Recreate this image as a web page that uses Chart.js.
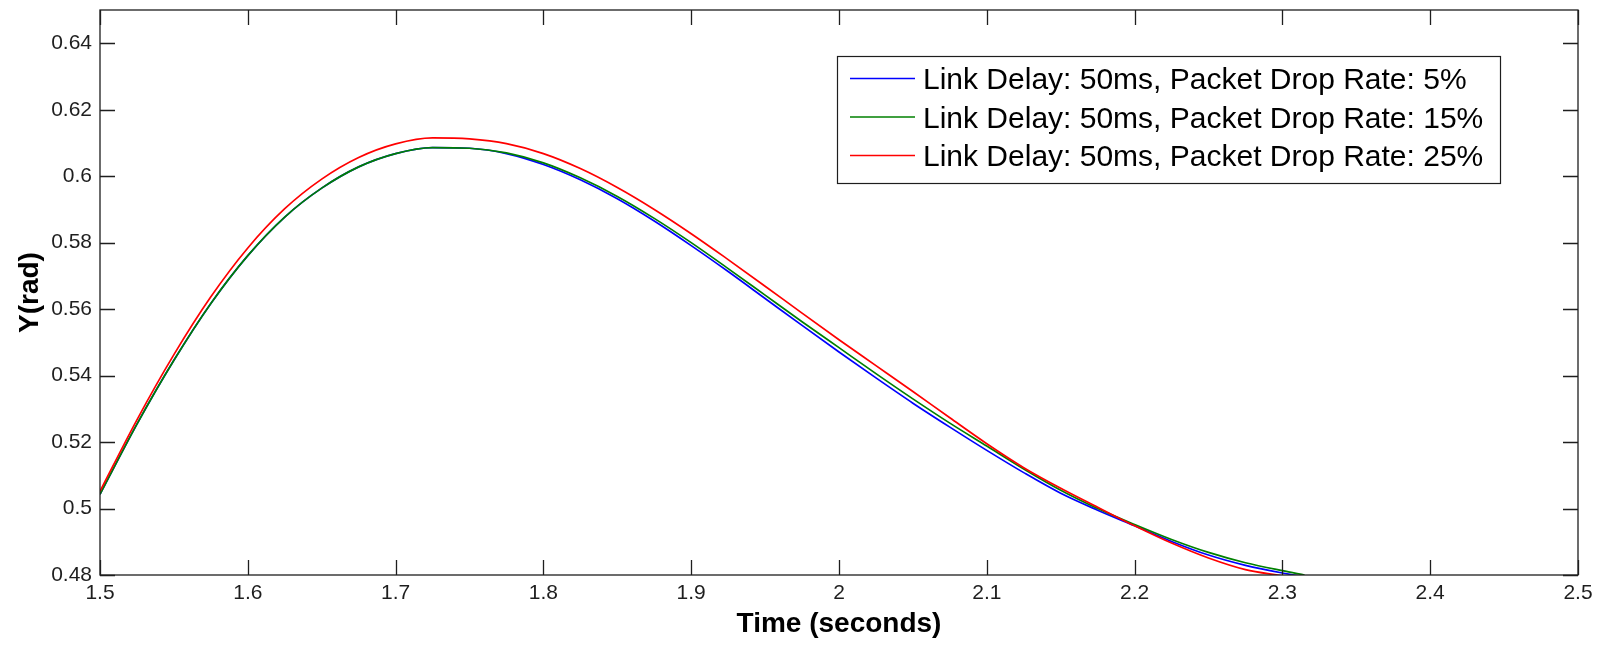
<!DOCTYPE html>
<html>
<head>
<meta charset="utf-8">
<script src="https://cdn.jsdelivr.net/npm/chart.js@4.4.0/dist/chart.umd.min.js"></script>
<style>
html,body{margin:0;padding:0;background:#fff;}
canvas{display:block;}
</style>
</head>
<body>
<canvas id="c" width="1600" height="646"></canvas>
<script>
// ---- Data ----
const time = [1.5,1.525,1.55,1.575,1.6,1.625,1.65,1.675,1.7,1.725,1.75,1.775,1.8,1.825,1.85,1.875,1.9,1.925,1.95,1.975,2.0,2.025,2.05,2.075,2.1,2.125,2.15,2.175,2.2,2.225,2.25,2.275,2.3,2.315];

const drop5 = [0.5043,0.5254,0.5446,0.5617,0.5761,0.5877,0.5964,0.6028,0.6068,0.6086,0.6084,0.6068,0.6035,0.5989,0.5932,0.5865,0.5791,0.5713,0.5632,0.5551,0.5471,0.5393,0.5317,0.5245,0.5175,0.5108,0.5046,0.4995,0.4948,0.4901,0.4860,0.4829,0.4806,0.4795];

const drop15 = [0.5043,0.5254,0.5446,0.5617,0.5761,0.5877,0.5964,0.6028,0.6068,0.6086,0.6084,0.6070,0.6040,0.5995,0.5939,0.5873,0.5800,0.5722,0.5642,0.5562,0.5484,0.5406,0.5330,0.5257,0.5188,0.5119,0.5055,0.5000,0.4952,0.4907,0.4868,0.4837,0.4813,0.4800];

const drop25 = [0.5052,0.5267,0.5463,0.5637,0.5784,0.5902,0.5991,0.6056,0.6097,0.6115,0.6112,0.6098,0.6068,0.6023,0.5966,0.5900,0.5827,0.5749,0.5669,0.5588,0.5508,0.5430,0.5352,0.5273,0.5195,0.5123,0.5061,0.5004,0.4948,0.4896,0.4851,0.4816,0.4797,0.4785];

const seriesLabels = [
  'Link Delay: 50ms, Packet Drop Rate: 5%',
  'Link Delay: 50ms, Packet Drop Rate: 15%',
  'Link Delay: 50ms, Packet Drop Rate: 25%'
];

const xTicks = [1.5,1.6,1.7,1.8,1.9,2.0,2.1,2.2,2.3,2.4,2.5];
const xTickLabels = ['1.5','1.6','1.7','1.8','1.9','2','2.1','2.2','2.3','2.4','2.5'];
const yTicks = [0.48,0.50,0.52,0.54,0.56,0.58,0.60,0.62,0.64];
const yTickLabels = ['0.48','0.5','0.52','0.54','0.56','0.58','0.6','0.62','0.64'];

// ---- Chart ----
const FONT = "'Liberation Sans', Arial, Helvetica, sans-serif";
const toPts = ys => time.map((t, i) => ({x: t, y: ys[i]}));

const colors = ['#0000ff', '#008000', '#ff0000'];

const framePlugin = {
  id: 'matlabFrame',
  afterDatasetsDraw(chart) {
    const {ctx, chartArea: a, scales: {x, y}} = chart;
    ctx.save();
    ctx.strokeStyle = '#1e1e1e';
    ctx.lineWidth = 1.3;
    ctx.strokeRect(a.left, a.top, a.right - a.left, a.bottom - a.top);
    const L = 15;
    ctx.beginPath();
    x.ticks.forEach(t => {
      const px = Math.round(x.getPixelForValue(t.value)) + 0.5;
      ctx.moveTo(px, a.bottom); ctx.lineTo(px, a.bottom - L);
      ctx.moveTo(px, a.top); ctx.lineTo(px, a.top + L);
    });
    y.ticks.forEach(t => {
      const py = Math.round(y.getPixelForValue(t.value)) + 0.5;
      ctx.moveTo(a.left, py); ctx.lineTo(a.left + L, py);
      ctx.moveTo(a.right, py); ctx.lineTo(a.right - L, py);
    });
    ctx.stroke();

    // Legend box (inside the axes, MATLAB style)
    const box = {left: 837, top: 56, right: 1500, bottom: 183};
    ctx.fillStyle = '#ffffff';
    ctx.fillRect(box.left, box.top, box.right - box.left, box.bottom - box.top);
    ctx.strokeStyle = '#1e1e1e';
    ctx.lineWidth = 1.2;
    ctx.strokeRect(box.left + 0.5, box.top + 0.5, box.right - box.left, box.bottom - box.top);
    ctx.font = '30px ' + FONT;
    ctx.textAlign = 'left';
    ctx.textBaseline = 'alphabetic';
    chart.data.datasets.forEach((ds, i) => {
      const ry = 78.5 + i * 38.5;
      ctx.strokeStyle = ds.borderColor;
      ctx.lineWidth = 1.6;
      ctx.beginPath();
      ctx.moveTo(850, ry); ctx.lineTo(915, ry);
      ctx.stroke();
      ctx.fillStyle = '#000000';
      ctx.fillText(ds.label, 923, ry + 10.5);
    });
    ctx.restore();
  }
};

new Chart(document.getElementById('c'), {
  type: 'line',
  data: {
    datasets: [
      {label: seriesLabels[0], data: toPts(drop5),  borderColor: colors[0], order: 2},
      {label: seriesLabels[1], data: toPts(drop15), borderColor: colors[1], order: 1},
      {label: seriesLabels[2], data: toPts(drop25), borderColor: colors[2], order: 0}
    ]
  },
  options: {
    responsive: false,
    animation: false,
    layout: {padding: {left: 0, right: 22, top: 10, bottom: 0}},
    elements: {
      line: {borderWidth: 1.7, cubicInterpolationMode: 'monotone', fill: false},
      point: {radius: 0, hoverRadius: 0}
    },
    plugins: {legend: {display: false}, tooltip: {enabled: false}},
    scales: {
      x: {
        type: 'linear', min: 1.5, max: 2.5,
        afterBuildTicks(s) { s.ticks = xTicks.map(v => ({value: v})); },
        afterFit(s) { s.height = 71; s.paddingLeft = 0; s.paddingRight = 0; },
        grid: {display: false, drawTicks: false},
        border: {display: false},
        ticks: {
          font: {family: FONT, size: 21}, color: '#1e1e1e', padding: 6,
          maxRotation: 0, autoSkip: false,
          callback: (v, i) => xTickLabels[i]
        },
        title: {
          display: true, text: 'Time (seconds)', color: '#000',
          font: {family: FONT, size: 28, weight: 'bold', lineHeight: 1},
          padding: {top: 0, bottom: 8}
        }
      },
      y: {
        type: 'linear', min: 0.48, max: 0.65,
        afterBuildTicks(s) { s.ticks = yTicks.map(v => ({value: v})); },
        afterFit(s) { s.width = 100; s.paddingTop = 0; s.paddingBottom = 0; },
        grid: {display: false, drawTicks: false},
        border: {display: false},
        ticks: {
          font: {family: FONT, size: 21}, color: '#1e1e1e', padding: 8,
          autoSkip: false,
          callback: (v, i) => yTickLabels[i]
        },
        title: {
          display: true, text: 'Y(rad)', color: '#000',
          font: {family: FONT, size: 28, weight: 'bold', lineHeight: 1},
          padding: {top: 16, bottom: 0}
        }
      }
    }
  },
  plugins: [framePlugin]
});
</script>
</body>
</html>
